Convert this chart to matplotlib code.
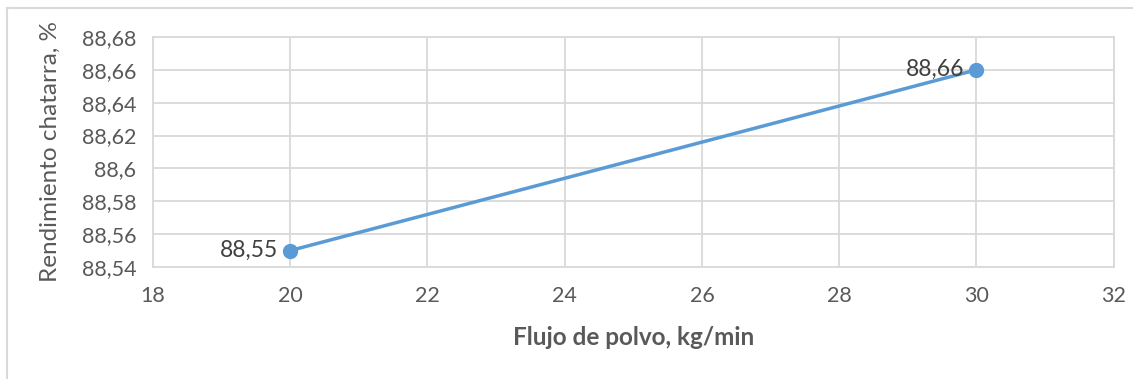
import matplotlib
matplotlib.use('Agg')
import matplotlib.pyplot as plt
from matplotlib.lines import Line2D

plt.rcParams['font.family'] = ['Lato', 'DejaVu Sans']

# data
flujo = [20, 30]
rendimiento = [88.55, 88.66]
x_ticks = [18, 20, 22, 24, 26, 28, 30, 32]
y_ticks = [88.54, 88.56, 88.58, 88.60, 88.62, 88.64, 88.66, 88.68]

blue = '#5B9BD5'
grid = '#D9D9D9'
txt = '#595959'


def coma(v):
    s = ('%.2f' % v).rstrip('0').rstrip('.')
    return s.replace('.', ',')


fig = plt.figure(figsize=(11.33, 3.79), dpi=100)
ax = fig.add_axes([0.135, 0.2955, 0.848, 0.607])

ax.plot(flujo, rendimiento, color=blue, lw=2.5, marker='o', ms=10,
        markeredgecolor=blue, zorder=3, solid_capstyle='round')
for x, y in zip(flujo, rendimiento):
    ax.annotate(coma(y), (x, y), xytext=(-9, 0), textcoords='offset points',
                ha='right', va='center', fontsize=16.5, color='#404040')

ax.set_xlim(18, 32)
ax.set_ylim(88.54, 88.68)
ax.set_xticks(x_ticks)
ax.set_yticks(y_ticks)
ax.set_xticklabels([str(v) for v in x_ticks])
ax.set_yticklabels([coma(v) for v in y_ticks])
ax.tick_params(length=0, labelsize=15.5, labelcolor=txt)
ax.tick_params(axis='x', pad=14)
ax.tick_params(axis='y', pad=12)
ax.grid(True, color=grid, lw=1.3)
ax.set_axisbelow(True)
for s in ax.spines.values():
    s.set_color(grid)
    s.set_linewidth(1.3)

ax.set_xlabel('Flujo de polvo, kg/min', fontsize=17.5, fontweight='bold',
              color=txt, labelpad=14)
ax.set_ylabel('Rendimiento chatarra, %', fontsize=17.5, color=txt, labelpad=15)

# outer chart border (top and left visible)
fig.add_artist(Line2D([7 / 1133, 7 / 1133], [0, 1 - 8 / 379],
                      color=grid, lw=1.5, transform=fig.transFigure))
fig.add_artist(Line2D([7 / 1133, 1], [1 - 8 / 379, 1 - 8 / 379],
                      color=grid, lw=1.5, transform=fig.transFigure))

fig.savefig('out.png', dpi=100, facecolor='white')
